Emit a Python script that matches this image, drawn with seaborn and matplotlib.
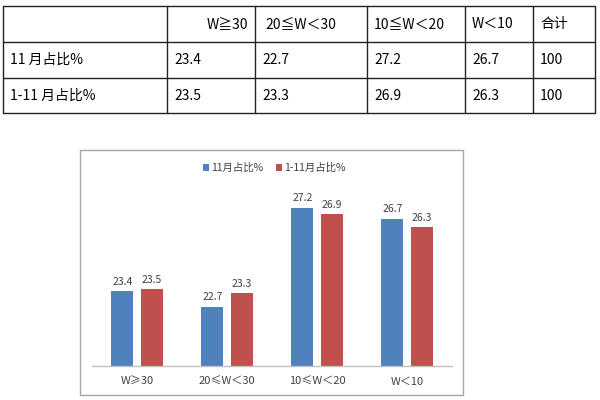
import matplotlib
matplotlib.use("Agg")
import matplotlib.pyplot as plt
import seaborn as sns
import pandas as pd
from matplotlib.patches import Rectangle

# ---- data ----
table_header = ["", "W≧30", "20≦W＜30", "10≦W＜20", "W＜10", "合计"]
row_labels = ["11 月占比%", "1-11 月占比%"]
row_nov = ["23.4", "22.7", "27.2", "26.7", "100"]
row_ytd = ["23.5", "23.3", "26.9", "26.3", "100"]

categories = ["W≥30", "20≤W＜30", "10≤W＜20", "W＜10"]
series_names = ["11月占比%", "1-11月占比%"]
nov_values = [23.4, 22.7, 27.2, 26.7]
ytd_values = [23.5, 23.3, 26.9, 26.3]

sns.set_theme(style="white")
plt.rcParams["font.family"] = ["Noto Sans CJK SC", "DejaVu Sans"]

fig = plt.figure(figsize=(6, 4), dpi=100)
fig.patch.set_facecolor("white")

# ---- table (pixel coords overlay) ----
tab = fig.add_axes([0, 0, 1, 1])
tab.set_xlim(0, 600)
tab.set_ylim(400, 0)
tab.axis("off")
col_x = [3, 167, 255, 367, 465, 533, 595]
row_y = [6, 42, 78, 113]
for x in col_x:
    tab.plot([x, x], [row_y[0], row_y[-1]], color="#222222", lw=1.0)
for y in row_y:
    tab.plot([col_x[0], col_x[-1]], [y, y], color="#222222", lw=1.0)

tfs = 10
# header
for j, h in enumerate(table_header):
    if j == 0 or not h:
        continue
    yc = (row_y[0] + row_y[1]) / 2
    if j == 1:
        tab.text(col_x[2] - 7, yc, h, ha="right", va="center", fontsize=tfs, color="black")
    else:
        tab.text(col_x[j] + 10 if j == 2 else col_x[j] + 7, yc, h, ha="left", va="center",
                 fontsize=tfs, color="black")
rows = [row_nov, row_ytd]
for i, (lab, vals) in enumerate(zip(row_labels, rows)):
    yc = (row_y[i + 1] + row_y[i + 2]) / 2
    tab.text(col_x[0] + 7, yc, lab, ha="left", va="center", fontsize=tfs, color="black")
    for j, v in enumerate(vals):
        tab.text(col_x[j + 1] + 7, yc, v, ha="left", va="center", fontsize=tfs, color="black")

# chart frame
tab.add_patch(Rectangle((80, 150), 383, 245, fill=False, edgecolor="#A6A6A6", lw=1.0))

# ---- bar chart ----
df = pd.DataFrame({
    "cat": categories * 2,
    "val": nov_values + ytd_values,
    "series": [series_names[0]] * 4 + [series_names[1]] * 4,
})
blue = "#4F81BD"
red = "#C0504D"
ax = fig.add_axes([92 / 600, 34 / 400, 360 / 600, 176 / 400])
sns.barplot(data=df, x="cat", y="val", hue="series", palette=[blue, red],
            width=0.656, gap=0.255, ax=ax, edgecolor="none", saturation=1,
            legend=True)
ax.set_ylim(20, 28)
ax.set_xlim(-0.5, 3.5)
ax.set_facecolor("none")
for c in ax.containers:
    ax.bar_label(c, fmt="%.1f", padding=3, fontsize=7.5, color="#404040")
ax.set_xlabel("")
ax.set_ylabel("")
ax.set_yticks([])
for s in ["top", "right", "left"]:
    ax.spines[s].set_visible(False)
ax.spines["bottom"].set_color("#BFBFBF")
ax.spines["bottom"].set_linewidth(1.0)
ax.tick_params(axis="x", length=0, labelsize=8, labelcolor="#404040", pad=8)

leg = ax.legend(loc="center", bbox_to_anchor=(274 / 600, 1 - 168 / 400),
                bbox_transform=fig.transFigure, ncol=2, frameon=False,
                fontsize=7.5, handlelength=0.6, handleheight=0.6, handletextpad=0.2,
                columnspacing=1.2)
for t in leg.get_texts():
    t.set_color("#404040")

fig.savefig("out.png", dpi=100, facecolor="white")
